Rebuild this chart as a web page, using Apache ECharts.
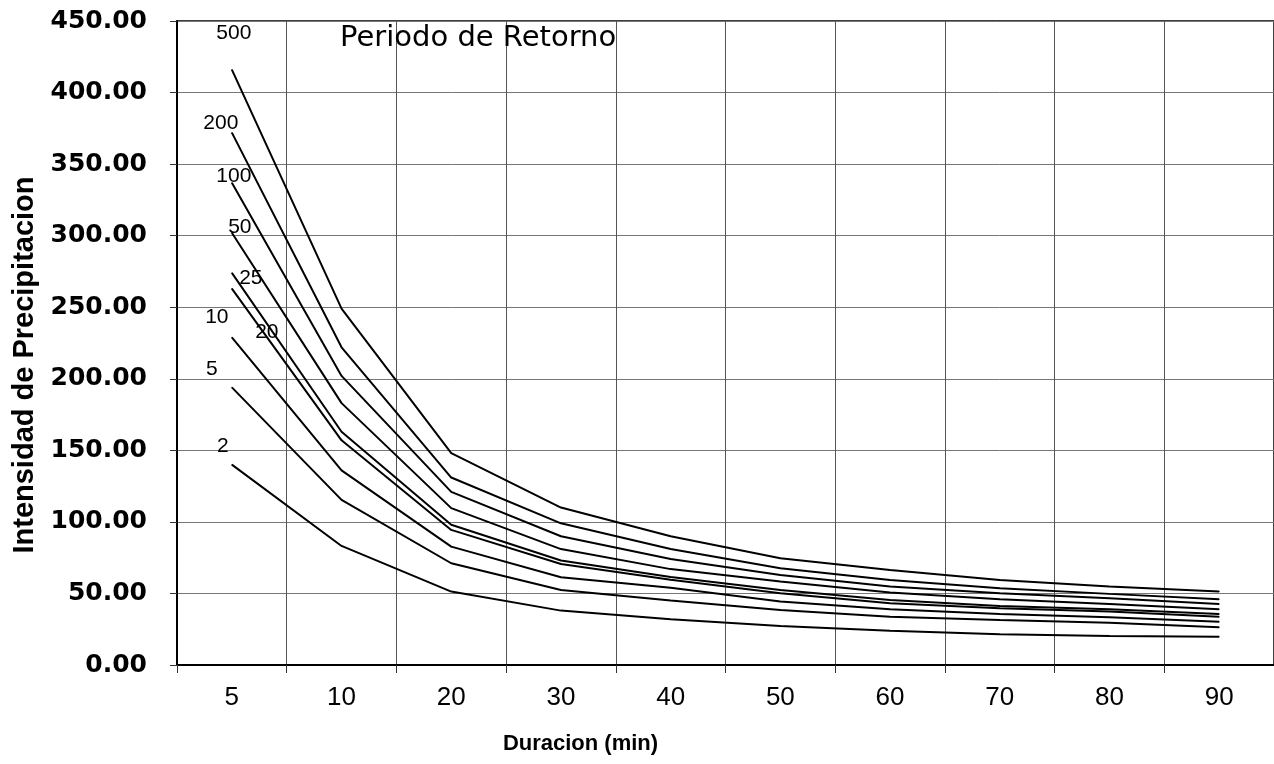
<!DOCTYPE html>
<html>
<head>
<meta charset="utf-8">
<script src="https://cdn.jsdelivr.net/npm/echarts@6/dist/echarts.min.js"></script>
<style>
html,body{margin:0;padding:0;background:#fff;}
#chart{width:1274px;height:764px;}
</style>
</head>
<body>
<div id="chart"></div>
<script>
// Duration categories (min)
const durations = ['5', '10', '20', '30', '40', '50', '60', '70', '80', '90'];
// Return periods (years)
const returnPeriods = ['500', '200', '100', '50', '25', '20', '10', '5', '2'];
// Intensities, one array per return period
const i500 = [416, 249, 148, 110, 90, 74.6, 66.4, 59.4, 54.8, 51.3];
const i200 = [372, 222, 131, 99, 81, 67.6, 59.4, 53.6, 49.7, 45.9];
const i100 = [337, 202, 121, 90, 74, 62.9, 54.8, 50.1, 46.6, 42.7];
const i50  = [302, 183, 109.6, 81, 67, 58.3, 50.6, 45.9, 42.7, 38.9];
const i25  = [274, 163, 98, 73, 61.5, 52.4, 45.5, 41.3, 38.9, 35.7];
const i20  = [263, 157, 94.4, 70.6, 59.5, 50.1, 43.1, 39.6, 37.3, 33.8];
const i10  = [229, 136, 82.7, 61.3, 54, 44.3, 39, 35.7, 33.4, 30.3];
const i5   = [194, 115.4, 71.1, 52.4, 45, 38.5, 33.8, 31.5, 29.6, 26.4];
const i2   = [140, 83.2, 51.3, 38, 32, 27.3, 24, 21.5, 20.3, 19.8];
// Y tick values
const yTicks = [0, 50, 100, 150, 200, 250, 300, 350, 400, 450];

const seriesValues = [i500, i200, i100, i50, i25, i20, i10, i5, i2];
// label offsets (styling, not data)
const labelOffsets = {
  '500': [2, -36], '200': [-11, -9], '100': [2, -7], '50': [8, -6],
  '25': [19, 5], '20': [35, 44], '10': [-15, -20], '5': [-20, -18], '2': [-9, -18]
};

const chart = echarts.init(document.getElementById('chart'), null, {renderer: 'canvas'});

const series = returnPeriods.map((rp, k) => ({
  name: rp,
  type: 'line',
  data: seriesValues[k],
  symbol: 'circle',
  symbolSize: 1,
  showSymbol: true,
  itemStyle: {color: '#000'},
  lineStyle: {color: '#000', width: 2},
  label: {
    show: true,
    position: 'inside',
    offset: labelOffsets[rp],
    formatter: p => (p.dataIndex === 0 ? p.seriesName : ''),
    fontFamily: 'Liberation Sans, Arial, sans-serif',
    fontSize: 21,
    color: '#000'
  },
  emphasis: {disabled: true},
  silent: true
}));

chart.setOption({
  animation: false,
  backgroundColor: '#fff',
  title: {
    text: 'Periodo de Retorno',
    left: 340,
    top: 24,
    padding: 0,
    textStyle: {fontFamily: 'DejaVu Sans, sans-serif', fontSize: 29, fontWeight: 'normal', color: '#000'}
  },
  grid: {
    left: 177, top: 21, width: 1100, height: 644,
    show: true, borderColor: '#000', borderWidth: 1.5, backgroundColor: 'transparent'
  },
  xAxis: {
    type: 'category',
    data: durations,
    boundaryGap: true,
    name: 'Duracion (min)',
    nameLocation: 'middle',
    nameGap: 68,
    nameTextStyle: {
      fontFamily: 'Liberation Sans, Arial, sans-serif', fontSize: 22, fontWeight: 'bold', color: '#000',
      padding: [0, 290, 0, 0]
    },
    axisLine: {show: true, lineStyle: {color: '#000', width: 2}},
    axisTick: {show: true, length: 8, lineStyle: {color: '#333'}},
    axisLabel: {
      margin: 20,
      fontFamily: 'Liberation Sans, Arial, sans-serif', fontSize: 26, color: '#000'
    },
    splitLine: {show: true, lineStyle: {color: '#555', width: 1}}
  },
  yAxis: {
    type: 'value',
    min: yTicks[0],
    max: yTicks[yTicks.length - 1],
    interval: 50,
    name: 'Intensidad de Precipitacion',
    nameLocation: 'middle',
    nameGap: 138,
    nameTextStyle: {
      fontFamily: 'Liberation Sans, Arial, sans-serif', fontSize: 29, fontWeight: 'bold', color: '#000',
      padding: [0, 44, 0, 0]
    },
    axisLine: {show: true, lineStyle: {color: '#000', width: 2}},
    axisTick: {show: true, length: 7, lineStyle: {color: '#333'}},
    axisLabel: {
      margin: 30,
      formatter: v => v.toFixed(2),
      fontFamily: 'DejaVu Sans, sans-serif', fontSize: 25, fontWeight: 'bold', color: '#000'
    },
    splitLine: {show: true, lineStyle: {color: '#777', width: 1}}
  },
  series: series
});
</script>
</body>
</html>
